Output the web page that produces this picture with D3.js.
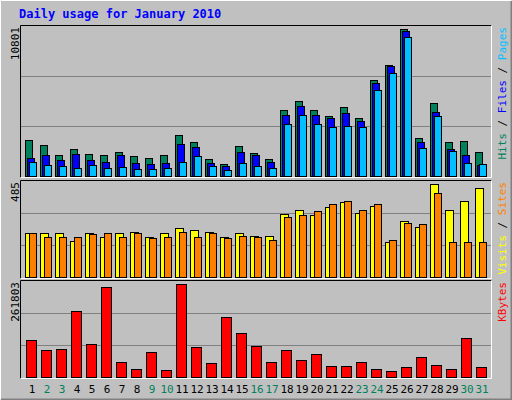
<!DOCTYPE html><html><head><script src="https://d3js.org/d3.v7.min.js"></script>
<style>body{margin:0;background:#fff}text{font-family:"DejaVu Sans Mono",monospace}</style></head><body><script>
const days=d3.range(1,32);
const weekend=[2,3,9,10,16,17,23,24,30,31];
const hits=[2664,2297,1515,2004,1589,1515,1784,1442,1344,1515,3030,2517,1271,904,2224,1711,1271,4814,5474,4814,4423,5083,4277,7062,8162,10801,2810,5376,2517,2590,1784];
const files=[1344,1515,1149,1589,1149,1051,1515,978,855,929,2370,2150,929,709,1784,1515,1051,4496,5156,4496,4277,4643,4057,6842,8089,10655,2517,4716,2004,1564,831];
const pages=[1051,782,709,562,782,562,635,489,489,562,1051,1442,709,415,978,709,562,3837,4496,3837,3617,3690,3617,6329,7576,10215,2077,4423,1857,978,904];
const visits=[232,232,232,190,232,211,232,237,211,232,253,243,237,206,227,216,216,326,347,321,363,389,332,368,185,290,263,485,352,394,462];
const sites=[227,211,211,211,222,227,211,227,201,211,237,211,232,201,216,206,195,311,321,342,379,394,347,379,195,284,279,436,185,185,185];
const kbytes=[104150,75480,78350,184400,92680,253200,41090,23890,69750,21020,261803,84080,38220,170080,124220,86950,41090,75480,46820,64020,29620,29620,41090,23890,18150,26750,55420,32490,23890,109880,26750];
const svg=d3.select("body").append("svg").attr("width",512).attr("height",400);
svg.append("rect").attr("width",512).attr("height",400).attr("fill","#C0C0C0");
svg.append("path").attr("d","M0.5,399.5V0.5H511.5").attr("stroke","#fff").attr("fill","none");
svg.append("path").attr("d","M1,399.5H511.5V1").attr("stroke","#808080").attr("stroke-width",2).attr("fill","none");
svg.append("text").attr("x",19).attr("y",18).attr("fill","#0000FF").attr("font-weight","bold").attr("font-size",12).text("Daily usage for January 2010");
const x=d3.scaleBand().domain(days).range([24,489]).paddingInner(0);
const X0=20,X1=491;
function panel(top,bot,max,series,label,rightParts){
  svg.append("rect").attr("x",X0).attr("y",top).attr("width",X1-X0).attr("height",bot-top).attr("fill","#C0C0C0");
  const y=d3.scaleLinear().domain([0,max]).range([bot-1,top+4]);
  const gy=d3.scaleLinear().domain([0,3]).range([bot,top]);
  [1,2].forEach(i=>svg.append("line").attr("x1",X0).attr("x2",X1).attr("y1",Math.round(gy(i))+.5).attr("y2",Math.round(gy(i))+.5).attr("stroke","#808080"));
  series.forEach(s=>{
    svg.append("g").selectAll("rect").data(s.data).join("rect")
      .attr("x",(d,i)=>x(days[i])+s.off+.5).attr("width",s.w)
      .attr("y",d=>Math.round(y(d))+.5).attr("height",d=>bot-1-Math.round(y(d)))
      .attr("fill",s.color).attr("stroke","#000");
  });
  svg.append("path").attr("d",`M${X0+.5},${bot+.5}V${top+.5}H${X1+.5}`).attr("stroke","#000").attr("fill","none");
  svg.append("path").attr("d",`M${X0+.5},${bot+.5}H${X1+.5}V${top+.5}`).attr("stroke","#fff").attr("fill","none");
  svg.append("text").attr("transform",`translate(19,${top+2}) rotate(-90)`).attr("text-anchor","end").attr("font-size",11).attr("fill","#000").text(label);
  const t=svg.append("text").attr("transform",`translate(506,${top+2}) rotate(-90)`).attr("text-anchor","end").attr("font-size",11);
  rightParts.forEach(p=>t.append("tspan").attr("fill",p[1]).text(p[0]));
}
panel(25,177,10801,[{data:hits,color:"#00805C",off:1,w:7},{data:files,color:"#0000FF",off:3,w:7},{data:pages,color:"#00C0FF",off:5,w:7}],"10801",
 [["Hits","#00805C"],[" / ","#000"],["Files","#0000FF"],[" / ","#000"],["Pages","#00C0FF"]]);
panel(180,278,485,[{data:visits,color:"#FFFF00",off:1,w:8},{data:sites,color:"#FF8000",off:5,w:7}],"485",
 [["Visits","#FFFF00"],[" / ","#000"],["Sites","#FF8000"]]);
panel(280,378,261803,[{data:kbytes,color:"#FF0000",off:2,w:10}],"261803",[["KBytes","#FF0000"]]);
svg.append("g").selectAll("text").data(days).join("text").attr("x",d=>x(d)+8).attr("y",393).attr("text-anchor","middle").attr("font-size",11)
 .attr("fill",d=>weekend.includes(d)?"#00805C":"#000").text(d=>d);
</script></body></html>
